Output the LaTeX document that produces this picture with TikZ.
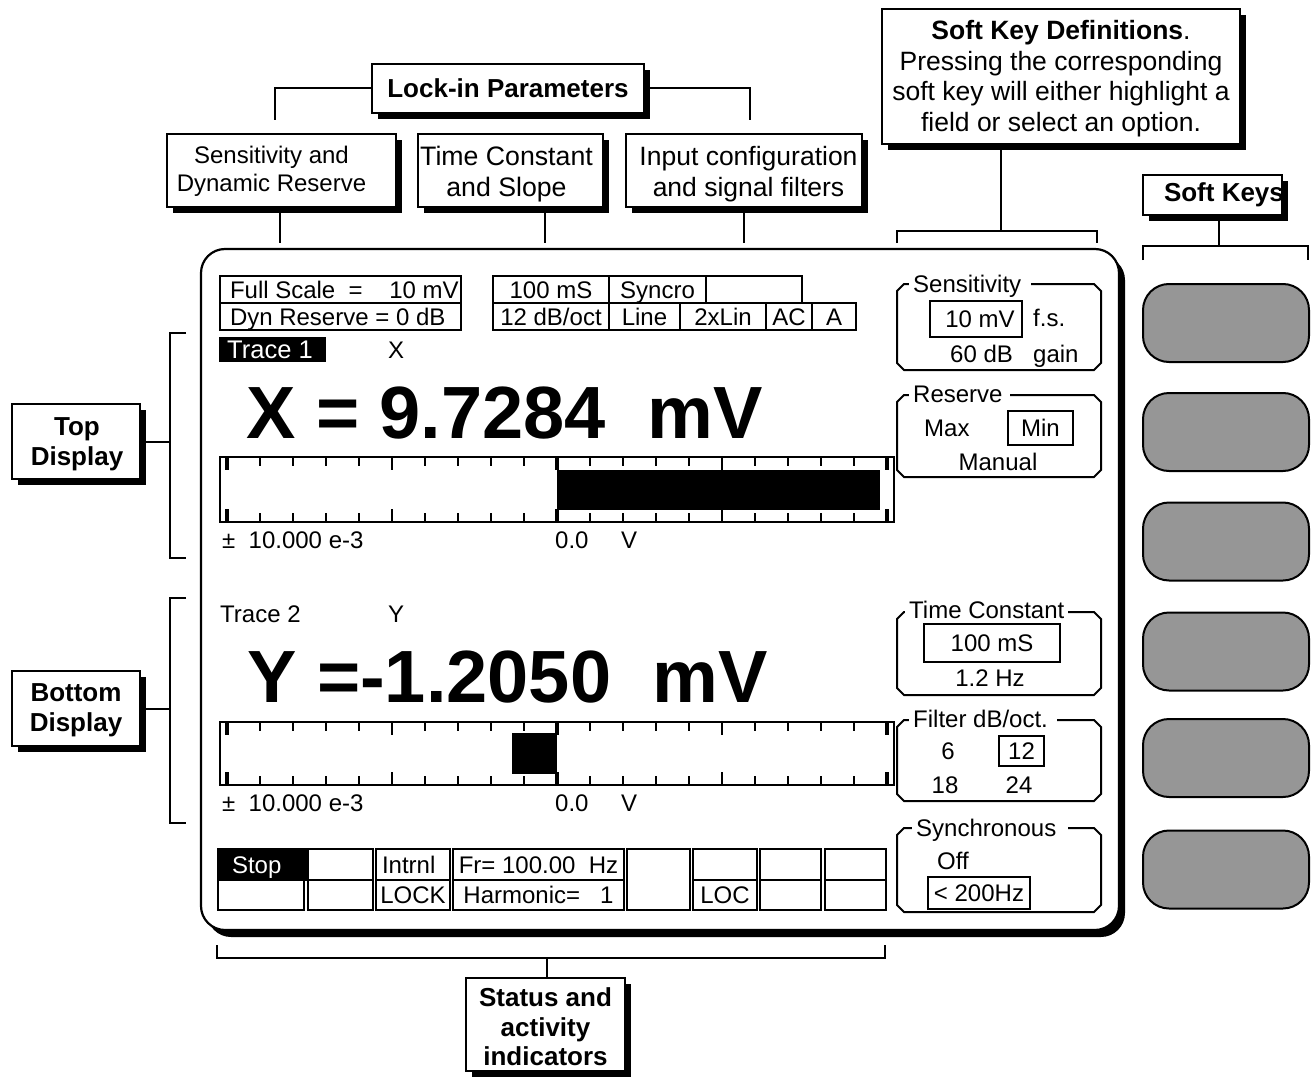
\documentclass[tikz,border=0pt]{standalone}
\usepackage{fontspec}
\setmainfont{Liberation Sans}
\usetikzlibrary{shadows}
\definecolor{keygray}{RGB}{150,150,150}
\newcommand\ftA{\fontsize{24}{28}\selectfont}
\newcommand\ftLab{\fontsize{26}{29.5}\selectfont\bfseries}
\newcommand\ftBig{\fontsize{74}{80}\selectfont\bfseries}
\newcommand\grpbox[4]{\draw[grp] (#1,#2+7) -- (#1+7,#2) -- (#3-7,#2) -- (#3,#2+7) -- (#3,#4-7) -- (#3-7,#4) -- (#1+7,#4) -- (#1,#4-7) -- cycle;}
\begin{document}
\begin{tikzpicture}[x=1pt,y=-1pt,
  lbl/.style={draw, line width=2pt, fill=white, inner sep=0pt, align=center,
    drop shadow={shadow xshift=6pt, shadow yshift=-6pt, opacity=1, fill=black}},
  labtxt/.style={inner sep=0pt, align=center},
  conn/.style={line width=2pt},
  thinconn/.style={line width=1.3pt},
  cell/.style={draw, line width=2pt, inner sep=0pt, anchor=north west, font=\ftA, text height=17.2pt, text depth=0pt},
  txt/.style={inner sep=0pt, font=\ftA, text height=17.2pt, text depth=0pt},
  key/.style={draw, line width=2pt, fill=keygray, rounded corners=26pt, minimum width=166pt, minimum height=78pt, inner sep=0pt},
  grp/.style={line width=2pt},
  ttl/.style={txt, fill=white, inner xsep=4pt, inner ysep=1.5pt, anchor=west},
  tick/.style={line width=2pt},
  bigtick/.style={line width=4.5pt},
  barframe/.style={draw, line width=2.5pt, inner sep=0pt, minimum width=674pt}]

\useasboundingbox (0,0) rectangle (1311,1078);

% ---------- main display frame ----------
\node[draw, line width=2.2pt, fill=white, rounded corners=24pt, minimum width=918pt, minimum height=681pt,
  drop shadow={shadow xshift=6pt, shadow yshift=-7pt, opacity=1, fill=black}] (disp) at (660,589.5) {};

% ---------- top parameter fields ----------
\node[cell, minimum width=241pt, minimum height=27pt] (fs1) at (219,275) {\makebox[241pt][l]{\hspace*{10pt}Full Scale~~=~~~~10 mV}};
\node[cell, minimum width=241pt, minimum height=27pt] (fs2) at (219,302) {\makebox[241pt][l]{\hspace*{10pt}Dyn Reserve = 0 dB}};
\node[cell, minimum width=116pt, minimum height=27pt] (r1a) at (492,275) {100 mS};
\node[cell, minimum width=97pt, minimum height=27pt] (r1b) at (608,275) {Syncro};
\node[cell, minimum width=96pt, minimum height=27pt] (r1c) at (705,275) {};
\node[cell, minimum width=116pt, minimum height=27pt] (r2a) at (492,302) {12 dB/oct};
\node[cell, minimum width=71pt, minimum height=27pt] (r2b) at (608,302) {Line};
\node[cell, minimum width=86pt, minimum height=27pt] (r2c) at (679,302) {2xLin};
\node[cell, minimum width=46pt, minimum height=27pt] (r2d) at (765,302) {AC};
\node[cell, minimum width=44pt, minimum height=27pt] (r2e) at (811,302) {A};

% ---------- top display ----------
\node[txt, font=\fontsize{25.5}{28}\selectfont, fill=black, text=white, anchor=north west, inner xsep=8pt, minimum height=25pt] (tr1) at (219,337) {\makebox[91pt][l]{Trace 1}};
\node[txt] (xl) at (396,350) {X};
\node[font=\ftBig, inner sep=0pt, anchor=base west] (bigx) at (246,438) {X = 9.7284~~mV};

\node[barframe, minimum height=65pt] (bar1) at (557,489.5) {};
\fill (557,470) rectangle (880,510);
\foreach \x in {260,293,326,359,425,458,491,524,590,623,656,689,755,788,821,854}
  {\draw[tick] (\x,457) -- ++(0,9); \draw[tick] (\x,522) -- ++(0,-9);}
\foreach \x in {392,722}
  {\draw[tick] (\x,457) -- ++(0,13); \draw[tick] (\x,522) -- ++(0,-13);}
\foreach \x in {227,557,887}
  {\draw[bigtick] (\x,457) -- ++(0,13); \draw[bigtick] (\x,522) -- ++(0,-13);}
\node[txt, anchor=west] (sc1) at (222,540) {±~~10.000 e-3};
\node[txt, anchor=west] (z1) at (555,540) {0.0};
\node[txt, anchor=west] (v1) at (621,540) {V};

% ---------- bottom display ----------
\node[txt, anchor=west] (tr2) at (220,613.5) {Trace 2};
\node[txt] (yl) at (396,613.5) {Y};
\node[font=\ftBig, inner sep=0pt, anchor=base west] (bigy) at (247,702) {Y =-1.2050~~mV};

\node[barframe, minimum height=63pt] (bar2) at (557,753.5) {};
\fill (512,733) rectangle (557,774);
\foreach \x in {260,293,326,359,425,458,491,524,590,623,656,689,755,788,821,854}
  {\draw[tick] (\x,722) -- ++(0,9); \draw[tick] (\x,785) -- ++(0,-9);}
\foreach \x in {392,722}
  {\draw[tick] (\x,722) -- ++(0,13); \draw[tick] (\x,785) -- ++(0,-13);}
\foreach \x in {227,557,887}
  {\draw[bigtick] (\x,722) -- ++(0,13); \draw[bigtick] (\x,785) -- ++(0,-13);}
\node[txt, anchor=west] (sc2) at (222,802.5) {±~~10.000 e-3};
\node[txt, anchor=west] (z2) at (555,802.5) {0.0};
\node[txt, anchor=west] (v2) at (621,802.5) {V};

% ---------- status grid ----------
\node[cell, fill=black, text=white, minimum width=88pt, minimum height=31pt] (st1a) at (217,848) {\makebox[88pt][l]{\hspace*{14pt}Stop}};
\node[cell, minimum width=86pt, minimum height=30pt] (st1b) at (217,879) {};
\node[cell, minimum width=65pt, minimum height=31pt] (st2a) at (307,848) {};
\node[cell, minimum width=65pt, minimum height=30pt] (st2b) at (307,879) {};
\node[cell, minimum width=74pt, minimum height=31pt] (st3a) at (375,848) {\makebox[74pt][l]{\hspace*{6pt}Intrnl}};
\node[cell, minimum width=74pt, minimum height=30pt] (st3b) at (375,879) {LOCK};
\node[cell, minimum width=171pt, minimum height=31pt] (st4a) at (452,848) {Fr= 100.00~~Hz};
\node[cell, minimum width=171pt, minimum height=30pt] (st4b) at (452,879) {Harmonic=~~~1};
\node[cell, minimum width=63pt, minimum height=61pt] (st5) at (626,848) {};
\node[cell, minimum width=64pt, minimum height=31pt] (st6a) at (692,848) {};
\node[cell, minimum width=64pt, minimum height=30pt] (st6b) at (692,879) {LOC};
\node[cell, minimum width=61pt, minimum height=31pt] (st7a) at (759,848) {};
\node[cell, minimum width=61pt, minimum height=30pt] (st7b) at (759,879) {};
\node[cell, minimum width=61pt, minimum height=31pt] (st8a) at (824,848) {};
\node[cell, minimum width=61pt, minimum height=30pt] (st8b) at (824,879) {};

% ---------- soft key definition groups ----------
\grpbox{897}{284}{1101}{370}
\node[ttl] (tSens) at (909,284) {Sensitivity\hspace*{6pt}};
\node[cell, minimum width=92pt, minimum height=36pt] (sv) at (929,300) {\hspace*{8pt}10 mV};
\node[txt, anchor=west] (fsl) at (1033,318) {f.s.};
\node[txt, anchor=west] (db60) at (950,354) {60 dB};
\node[txt, anchor=west] (gain) at (1033,354) {gain};

\grpbox{897}{395}{1101}{477}
\node[ttl] (tRes) at (909,394) {Reserve\hspace*{3pt}};
\node[txt, anchor=west] (max) at (924,427.5) {Max};
\node[cell, minimum width=65pt, minimum height=34pt] (mn) at (1007,410) {Min};
\node[txt] (manual) at (998,461.5) {Manual};

\grpbox{897}{612}{1101}{695}
\node[ttl] (tTc) at (905,610) {Time Constant};
\node[cell, minimum width=136pt, minimum height=38pt] (tc) at (923,623) {100 mS};
\node[txt] (hz12) at (990,678) {1.2 Hz};

\grpbox{897}{720}{1101}{801}
\node[ttl] (tFil) at (909,719) {Filter dB/oct.\hspace*{5pt}};
\node[txt] (f6) at (948,750.5) {6};
\node[cell, minimum width=45pt, minimum height=30pt] (f12) at (998,735) {12};
\node[txt] (f18) at (945,784.5) {18};
\node[txt] (f24) at (1019,784.5) {24};

\grpbox{897}{828}{1101}{912}
\node[ttl] (tSyn) at (912,827.5) {Synchronous\hspace*{8pt}};
\node[txt, anchor=west] (off) at (937,861) {Off};
\node[cell, minimum width=102pt, minimum height=32pt] (sy) at (927,876) {< 200Hz};

% ---------- soft keys ----------
\node[key] (k1) at (1226,323) {};
\node[key] (k2) at (1226,432) {};
\node[key] (k3) at (1226,541.5) {};
\node[key] (k4) at (1226,651.5) {};
\node[key] (k5) at (1226,758) {};
\node[key] (k6) at (1226,869.5) {};

% ---------- callout labels ----------
\node[lbl, font=\ftLab, minimum width=272pt, minimum height=49pt] (lock) at (508,88.5) {Lock-in Parameters};

\node[lbl, minimum width=229pt, minimum height=73pt] (sens) at (281.5,170.5) {};
\node[labtxt, font=\fontsize{24}{28}\selectfont] (senst) at (271.5,171.5) {Sensitivity and\\Dynamic Reserve};
\node[lbl, minimum width=185pt, minimum height=73pt] (tcs) at (510.5,170.5) {};
\node[labtxt, font=\fontsize{26.7}{31}\selectfont] (tcst) at (506.5,174) {Time Constant\\and Slope};
\node[lbl, minimum width=236pt, minimum height=73pt] (inp) at (744,170.5) {};
\node[labtxt, font=\fontsize{26.5}{31}\selectfont] (inpt) at (748.5,174) {Input configuration\\and signal filters};

\node[lbl, minimum width=358pt, minimum height=135pt] (skd) at (1061,76.5) {};
\node[labtxt, font=\fontsize{26.5}{30.5}\selectfont] (skdt) at (1061,78.8)
  {\textbf{Soft Key Definitions}.\\Pressing the corresponding\\soft key will either highlight a\\field or select an option.};

\node[lbl, font=\ftLab, minimum width=139pt, minimum height=40pt] (sk) at (1212.5,195) {\makebox[139pt][l]{\hspace*{21pt}\raisebox{-2pt}{Soft Keys}}};

\node[lbl, minimum width=128pt, minimum height=75pt] (topd) at (76,441.5) {};
\node[labtxt, font=\ftLab] (topdt) at (77,444.5) {Top\\Display};
\node[lbl, minimum width=128pt, minimum height=75pt] (botd) at (76,708.5) {};
\node[labtxt, font=\ftLab] (botdt) at (76,710.2) {Bottom\\Display};
\node[lbl, minimum width=159pt, minimum height=93pt] (stat) at (545.5,1024.5) {};
\node[labtxt, font=\ftLab] (statt) at (545.5,1027) {Status and\\activity\\indicators};

% ---------- connectors ----------
\coordinate (lockL) at (275,120);
\coordinate (lockR) at (750,120);
\draw[conn] (lock.west) -| (lockL);
\draw[conn] (lock.east) -| (lockR);
\coordinate (sensB) at (280,243);
\coordinate (tcsB) at (545,243);
\coordinate (inpB) at (744,243);
\draw[conn] (sensB |- sens.south) -- (sensB);
\draw[conn] (tcsB |- tcs.south) -- (tcsB);
\draw[conn] (inpB |- inp.south) -- (inpB);

\coordinate (skdB) at (1001,231);
\draw[thinconn] (skdB |- skd.south) -- (skdB);
\draw[thinconn] (897,243) -- (897,231) -- (1097,231) -- (1097,243);

\coordinate (skB) at (1219,246);
\draw[thinconn] (skB |- sk.south) -- (skB);
\draw[thinconn] (1143,260) -- (1143,246) -- (1308,246) -- (1308,260);

\coordinate (tbk) at (170,441.5);
\draw[conn] (topd.east) -- (tbk);
\draw[conn] (186,333) -- (170,333) -- (170,558) -- (186,558);
\coordinate (bbk) at (170,708.5);
\draw[conn] (botd.east) -- (bbk);
\draw[conn] (186,598) -- (170,598) -- (170,823) -- (186,823);

\coordinate (stB) at (547,958);
\draw[thinconn] (stB) -- (stB |- stat.north);
\draw[thinconn] (217,945) -- (217,958) -- (885,958) -- (885,945);
\end{tikzpicture}
\end{document}
